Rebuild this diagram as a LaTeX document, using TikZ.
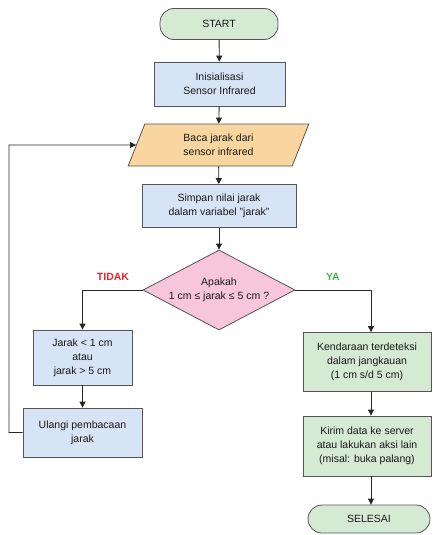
\documentclass[tikz,border=0pt]{standalone}
\usepackage{fontspec}
\setmainfont{Liberation Sans}
\usetikzlibrary{shapes.geometric,arrows.meta}
\definecolor{bluef}{HTML}{D6E4F6}
\definecolor{greenf}{HTML}{D5EAD2}
\definecolor{orangef}{HTML}{F9D6A0}
\definecolor{pinkf}{HTML}{F8C6DA}
\definecolor{bordc}{HTML}{555555}
\definecolor{redl}{HTML}{E3262E}
\definecolor{greenl}{HTML}{4CAF50}
\begin{document}
\begin{tikzpicture}[x=1pt,y=-1pt,
  every node/.style={font=\fontsize{10.5}{14}\selectfont, align=center, text=black!90},
  proc/.style={draw=bordc, line width=0.8pt, fill=bluef, rectangle, inner sep=2pt},
  procg/.style={proc, fill=greenf},
  term/.style={draw=bordc, line width=0.8pt, fill=greenf, rectangle, rounded corners=14pt, inner sep=2pt},
  io/.style={draw=bordc, line width=0.8pt, fill=orangef, trapezium, trapezium left angle=72, trapezium right angle=108, trapezium stretches=true, inner sep=2pt},
  dec/.style={draw=bordc, line width=0.8pt, fill=pinkf, diamond, shape aspect=1.9, inner sep=0pt},
  arr/.style={draw=black!85, line width=0.9pt, -{Triangle[length=6pt,width=6pt]}},
  lbl/.style={font=\fontsize{10.5}{12}\selectfont\bfseries}
]
\useasboundingbox (0,0) rectangle (433,535);
\fill[white] (0,0) rectangle (433,535);

\node[term, minimum width=118pt, minimum height=31pt] (start) at (219,24) {START};
\node[proc, minimum width=131pt, minimum height=44pt] (init) at (219.5,84) {Inisialisasi\\Sensor Infrared};
\node[io, minimum width=181pt, minimum height=42pt] (baca) at (218.5,145) {Baca jarak dari\\sensor infrared};
\node[proc, minimum width=154pt, minimum height=43pt] (simpan) at (219,206) {Simpan nilai jarak\\dalam variabel "jarak"};
\node[dec, minimum width=152pt, minimum height=80pt] (cek) at (219,290) {Apakah\\1 cm ≤ jarak ≤ 5 cm ?};
\node[lbl, text=redl] (tidak) at (113,277) {TIDAK};
\node[lbl, text=greenl] (ya) at (333,277) {YA};
\node[proc, minimum width=99pt, minimum height=55pt] (luar) at (82.5,357.5) {Jarak < 1 cm\\atau\\jarak > 5 cm};
\node[proc, minimum width=119pt, minimum height=49pt] (ulangi) at (82.5,432.5) {Ulangi pembacaan\\jarak};
\node[procg, minimum width=128pt, minimum height=59pt] (kend) at (367,362) {Kendaraan terdeteksi\\dalam jangkauan\\(1 cm s/d 5 cm)};
\node[procg, minimum width=128pt, minimum height=60pt] (kirim) at (367,446) {Kirim data ke server\\atau lakukan aksi lain\\(misal: buka palang)};
\node[term, minimum width=122pt, minimum height=28pt] (selesai) at (369,519) {SELESAI};

\coordinate (lt) at (82.5,290);
\coordinate (rt) at (371,290);
\coordinate (lb) at (9,432.5);
\coordinate (lu) at (9,145);

\draw[arr] (start) -- (init);
\draw[arr] (init) -- (baca);
\draw[arr] (baca) -- (simpan);
\draw[arr] (simpan) -- (cek);
\draw[arr] (cek.west) -- (lt) -- (luar.north);
\draw[arr] (cek.east) -- (rt) -- (kend.north -| rt);
\draw[arr] (luar) -- (ulangi);
\draw[arr] (ulangi.west) -- (lb) -- (lu) -- (baca.west);
\draw[arr] (kend.south -| rt) -- (kirim.north -| rt);
\draw[arr] (kirim.south -| rt) -- (selesai.north -| rt);
\end{tikzpicture}
\end{document}
